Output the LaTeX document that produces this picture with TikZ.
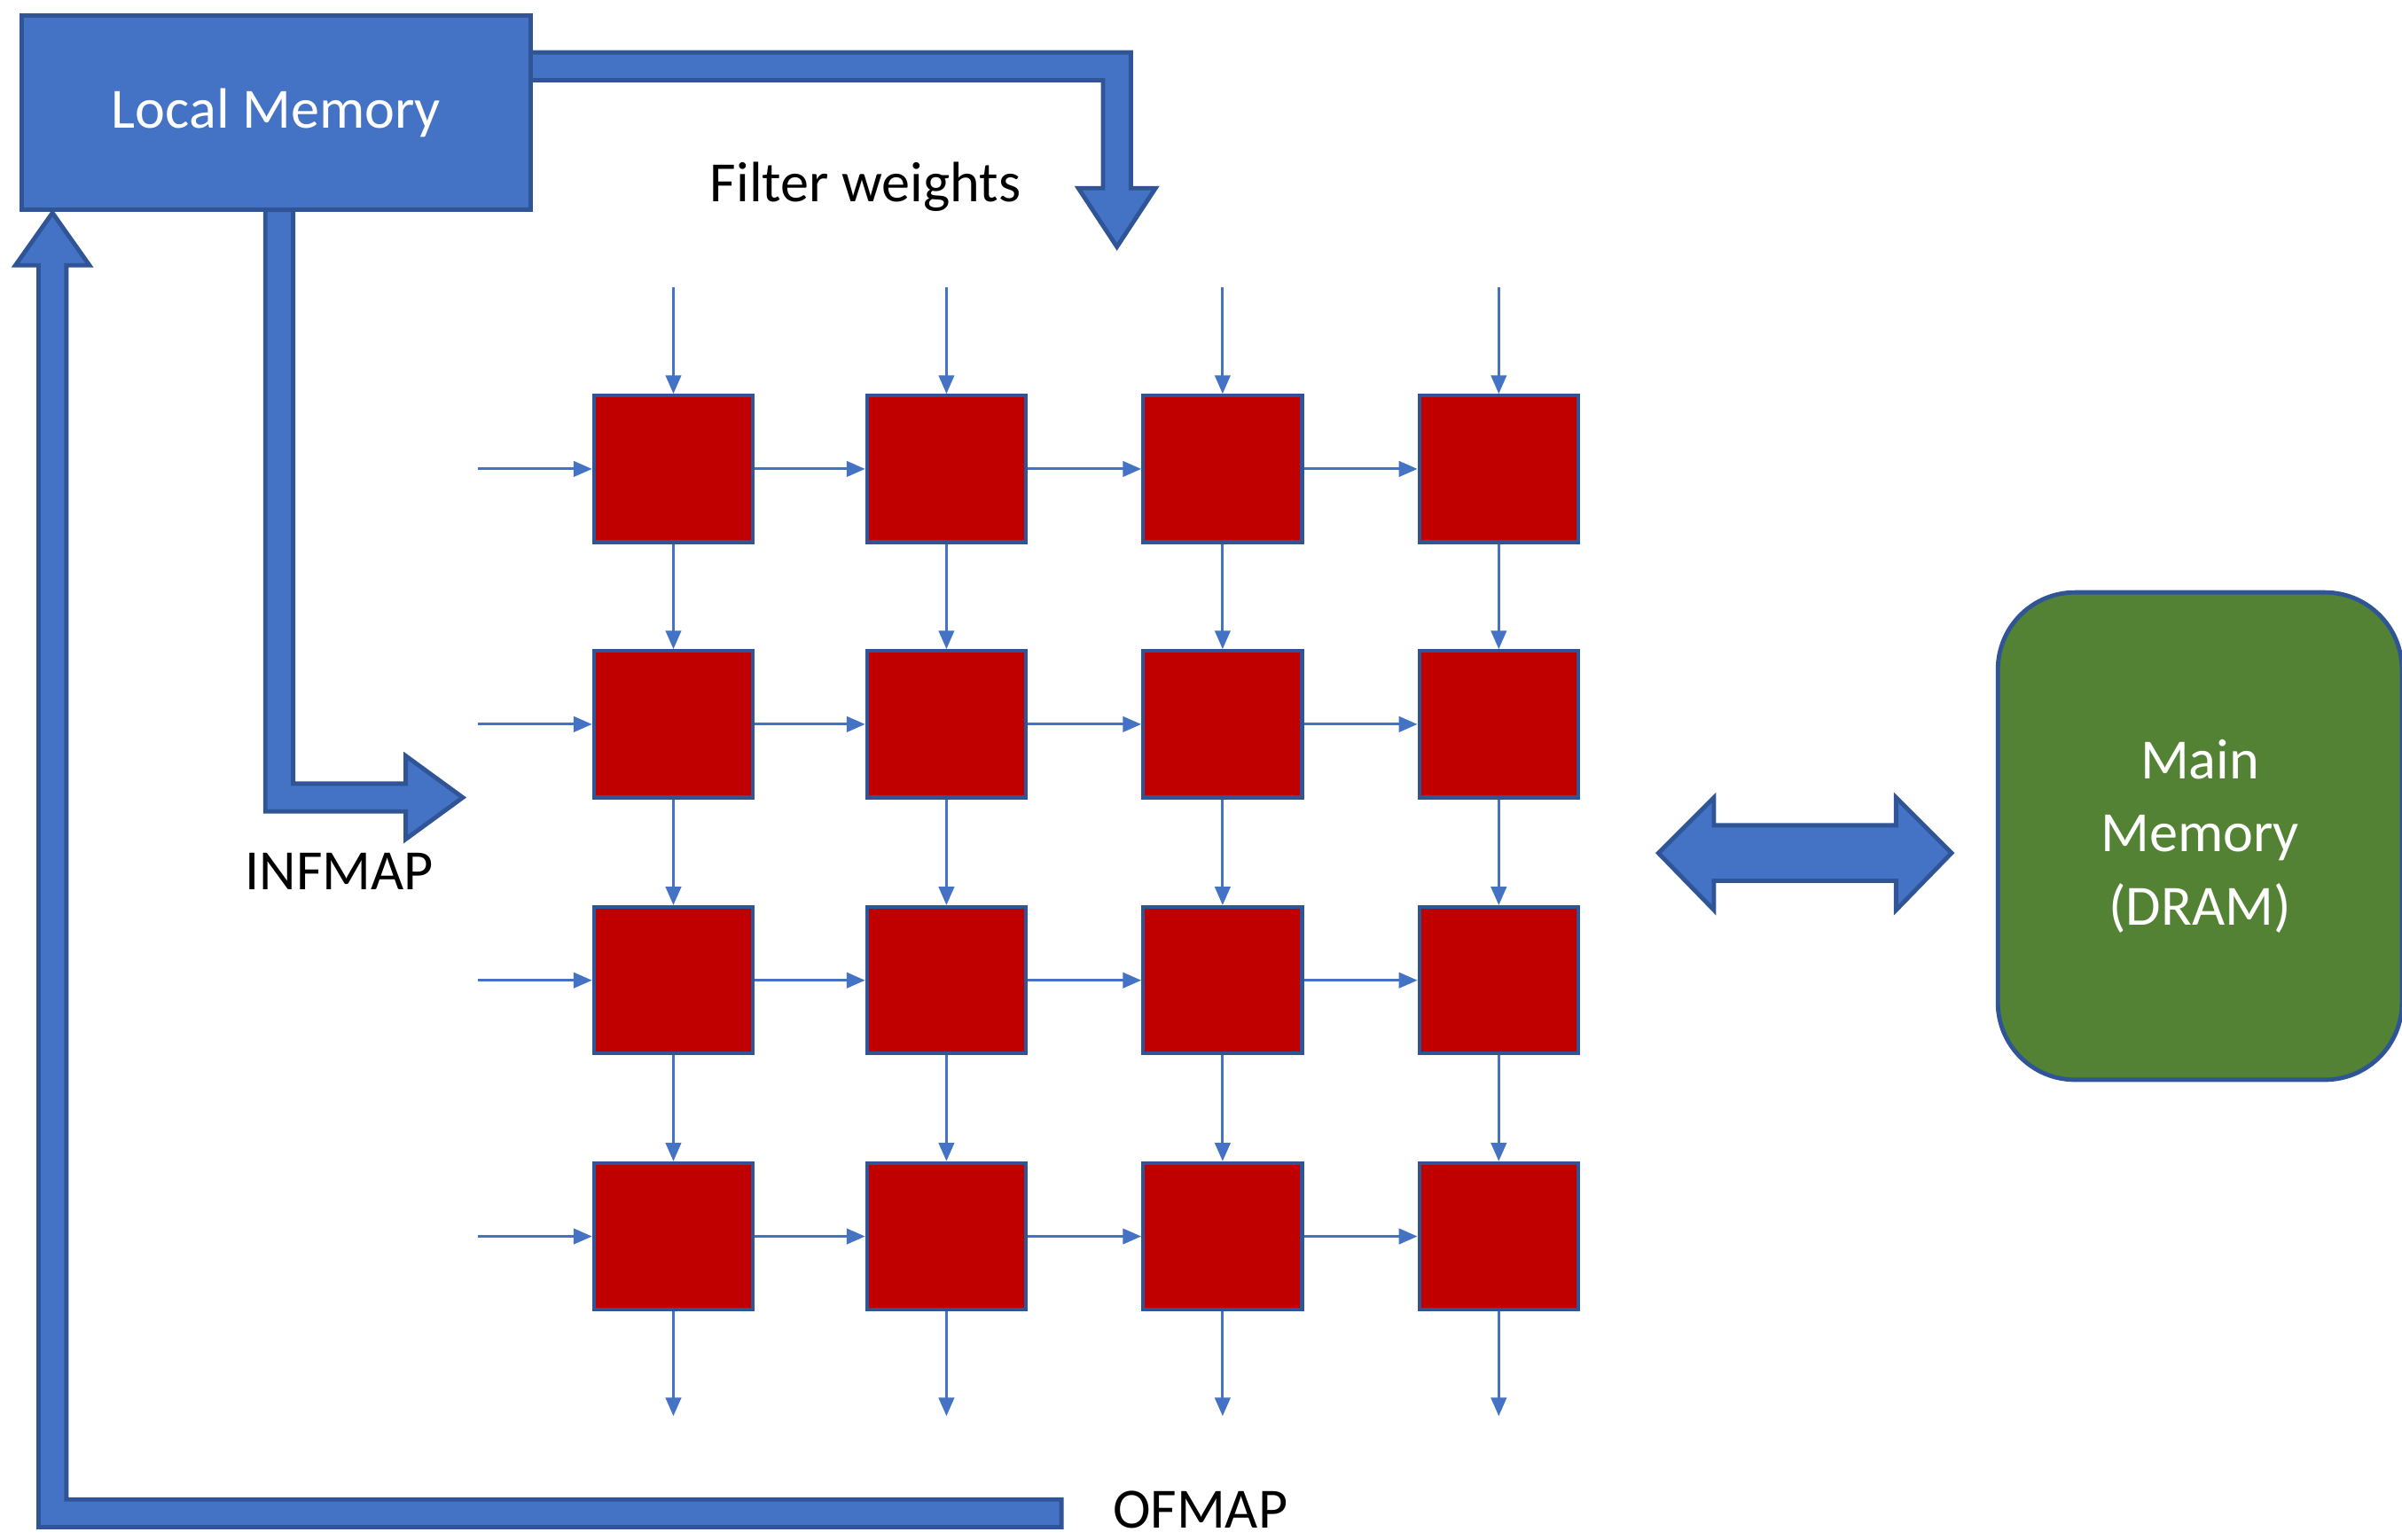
\documentclass[tikz,border=0pt]{standalone}
\usepackage{fontspec}
\setmainfont{Carlito}
\usetikzlibrary{arrows.meta}
\definecolor{lblue}{HTML}{4472C4}
\definecolor{dblue}{HTML}{2F5597}
\definecolor{pered}{HTML}{C00000}
\definecolor{mgreen}{HTML}{548235}
\begin{document}
\begin{tikzpicture}[x=0.02cm,y=-0.02cm,
  big/.style={fill=lblue,draw=dblue,line width=1.6pt,line join=miter},
  pe/.style={fill=pered,draw=dblue,line width=1.4pt,minimum width=2.06cm,minimum height=1.9cm,inner sep=0},
  flow/.style={draw=lblue,line width=1pt,-{Triangle[length=0.24cm,width=0.2cm]}},
  lbl/.style={font=\fontsize{21}{25}\selectfont,inner sep=0}]
\useasboundingbox (0,0) rectangle (1557,998);
% thick arrows
\fill[big] (344,34) -- (733,34) -- (733,122) -- (749,122) -- (724,160) -- (699,122) -- (715,122) -- (715,52) -- (344,52) -- cycle;
\fill[big] (172,136) -- (190,136) -- (190,508) -- (263,508) -- (263,490) -- (300,517) -- (263,544) -- (263,526) -- (172,526) -- cycle;
\fill[big] (688,972) -- (688,990) -- (25,990) -- (25,172) -- (10,172) -- (34,138) -- (58,172) -- (43,172) -- (43,972) -- cycle;
\fill[big] (1075,553) -- (1111,517) -- (1111,535) -- (1229,535) -- (1229,517) -- (1265,553) -- (1229,590) -- (1229,571) -- (1111,571) -- (1111,590) -- cycle;
\node[big,minimum width=6.6cm,minimum height=2.52cm,inner sep=0,text=white,font=\fontsize{21}{25}\selectfont] (lm) at (179,73) {Local Memory};
\node[draw=dblue,line width=1.6pt,fill=mgreen,rounded corners=1cm,minimum width=5.24cm,minimum height=6.32cm,inner sep=0] (mm) at (1426,542) {};
\node[lbl,text=white,align=center,font=\fontsize{21}{27}\selectfont] (mmt) at (1426,542) {Main\\Memory\\(DRAM)};
\node[lbl,anchor=west] (fw) at (460,121) {Filter weights};
\node[lbl] (inf) at (220,565) {INFMAP};
\node[lbl] (of) at (778,979) {OFMAP};
% PEs
\foreach \c/\x in {1/436.5,2/613.5,3/792.5,4/971.5}{
  \foreach \r/\y in {1/304,2/469.5,3/635.5,4/801.5}{
    \node[pe] (p\r\c) at (\x,\y) {};
  }
  \coordinate (t\c) at (\x,186);
  \coordinate (b\c) at (\x,918);
  \draw[flow] (t\c) -- (p1\c);
  \draw[flow] (p1\c) -- (p2\c);
  \draw[flow] (p2\c) -- (p3\c);
  \draw[flow] (p3\c) -- (p4\c);
  \draw[flow] (p4\c) -- (b\c);
}
\foreach \r/\y in {1/304,2/469.5,3/635.5,4/801.5}{
  \coordinate (l\r) at (310,\y);
  \draw[flow] (l\r) -- (p\r1);
  \draw[flow] (p\r1) -- (p\r2);
  \draw[flow] (p\r2) -- (p\r3);
  \draw[flow] (p\r3) -- (p\r4);
}
\end{tikzpicture}
\end{document}
